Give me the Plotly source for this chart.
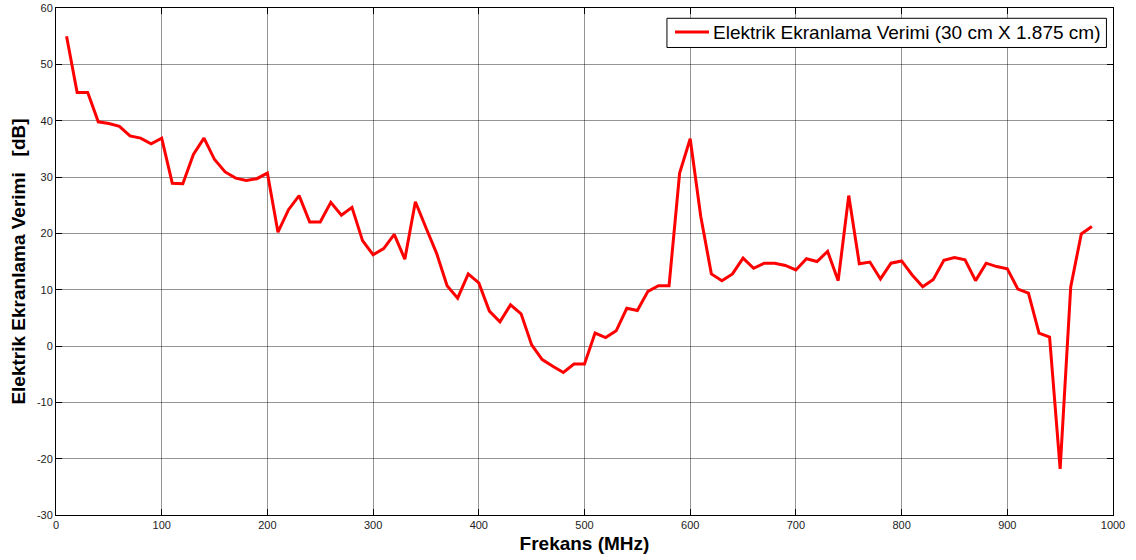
import plotly.graph_objects as go

freq_mhz = list(range(10, 990, 10))
shielding_db = [
    55.0, 45.0, 45.0, 39.8, 39.5, 39.0, 37.3, 36.9, 35.9, 36.9,   # 10-100
    28.9, 28.8, 34.0, 36.9, 33.1, 30.9, 29.8, 29.4, 29.7, 30.7,   # 110-200
    20.2, 24.2, 26.7, 22.0, 22.0, 25.5, 23.2, 24.6, 18.7, 16.2,   # 210-300
    17.3, 19.8, 15.4, 25.6, 21.0, 16.5, 10.7, 8.5, 12.8, 11.2,    # 310-400
    6.2, 4.3, 7.3, 5.7, 0.2, -2.4, -3.6, -4.7, -3.2, -3.2,        # 410-500
    2.3, 1.5, 2.7, 6.7, 6.3, 9.7, 10.7, 10.7, 30.7, 36.8,         # 510-600
    23.0, 12.8, 11.6, 12.8, 15.6, 13.8, 14.7, 14.7, 14.3, 13.5,   # 610-700
    15.5, 15.0, 16.8, 11.6, 26.7, 14.6, 14.9, 11.9, 14.7, 15.1,   # 710-800
    12.6, 10.5, 11.8, 15.2, 15.7, 15.3, 11.6, 14.7, 14.1, 13.7,   # 810-900
    10.1, 9.4, 2.3, 1.6, -21.8, 10.5, 19.9, 21.2                  # 910-980
]

x_ticks = [0, 100, 200, 300, 400, 500, 600, 700, 800, 900, 1000]
y_ticks = [-30, -20, -10, 0, 10, 20, 30, 40, 50, 60]
series_name = "Elektrik Ekranlama Verimi (30 cm X 1.875 cm)"

FONT = "Liberation Sans, Arial, sans-serif"
LINE_COLOR = "#ff0000"

fig = go.Figure()
fig.add_trace(go.Scatter(
    x=freq_mhz, y=shielding_db, mode="lines",
    line=dict(color=LINE_COLOR, width=3),
    name=series_name, showlegend=False,
))

axis_common = dict(
    showline=True, linecolor="black", linewidth=1, mirror="ticks",
    ticks="inside", ticklen=6, tickcolor="black", tickwidth=1,
    showgrid=True, gridcolor="rgba(0,0,0,0.42)", gridwidth=1,
    zeroline=False, tickfont=dict(family=FONT, size=11, color="#222"),
    automargin=False,
)

fig.update_xaxes(
    range=[0, 1000], tickvals=x_ticks, ticktext=[str(v) for v in x_ticks],
    title=dict(text="<b>Frekans (MHz)</b>", font=dict(family=FONT, size=19, color="black"), standoff=6),
    **axis_common,
)
fig.update_yaxes(
    range=[-30, 60], tickvals=y_ticks, ticktext=[str(v) for v in y_ticks],
    title=dict(text="<b>Elektrik Ekranlama Verimi   [dB]</b>", font=dict(family=FONT, size=19, color="black"), standoff=6),
    **axis_common,
)

# Legend box drawn in paper coordinates (tight MATLAB-style legend)
fig.add_shape(type="rect", xref="paper", yref="paper",
              x0=0.578, x1=0.9938, y0=0.9221, y1=0.9797,
              fillcolor="white", line=dict(color="black", width=1), layer="above")
fig.add_shape(type="line", xref="paper", yref="paper",
              x0=0.5856, x1=0.6178, y0=0.9528, y1=0.9528,
              line=dict(color=LINE_COLOR, width=3), layer="above")
fig.add_annotation(xref="paper", yref="paper", x=0.6200, y=0.9515,
                   xanchor="left", yanchor="middle", showarrow=False,
                   text=series_name,
                   font=dict(family=FONT, size=19, color="black"))

fig.update_layout(
    width=1136, height=560,
    margin=dict(l=56, r=23, t=8, b=45),
    paper_bgcolor="white", plot_bgcolor="white",
    showlegend=False,
    font=dict(family=FONT),
)

fig.write_html("out.html")
